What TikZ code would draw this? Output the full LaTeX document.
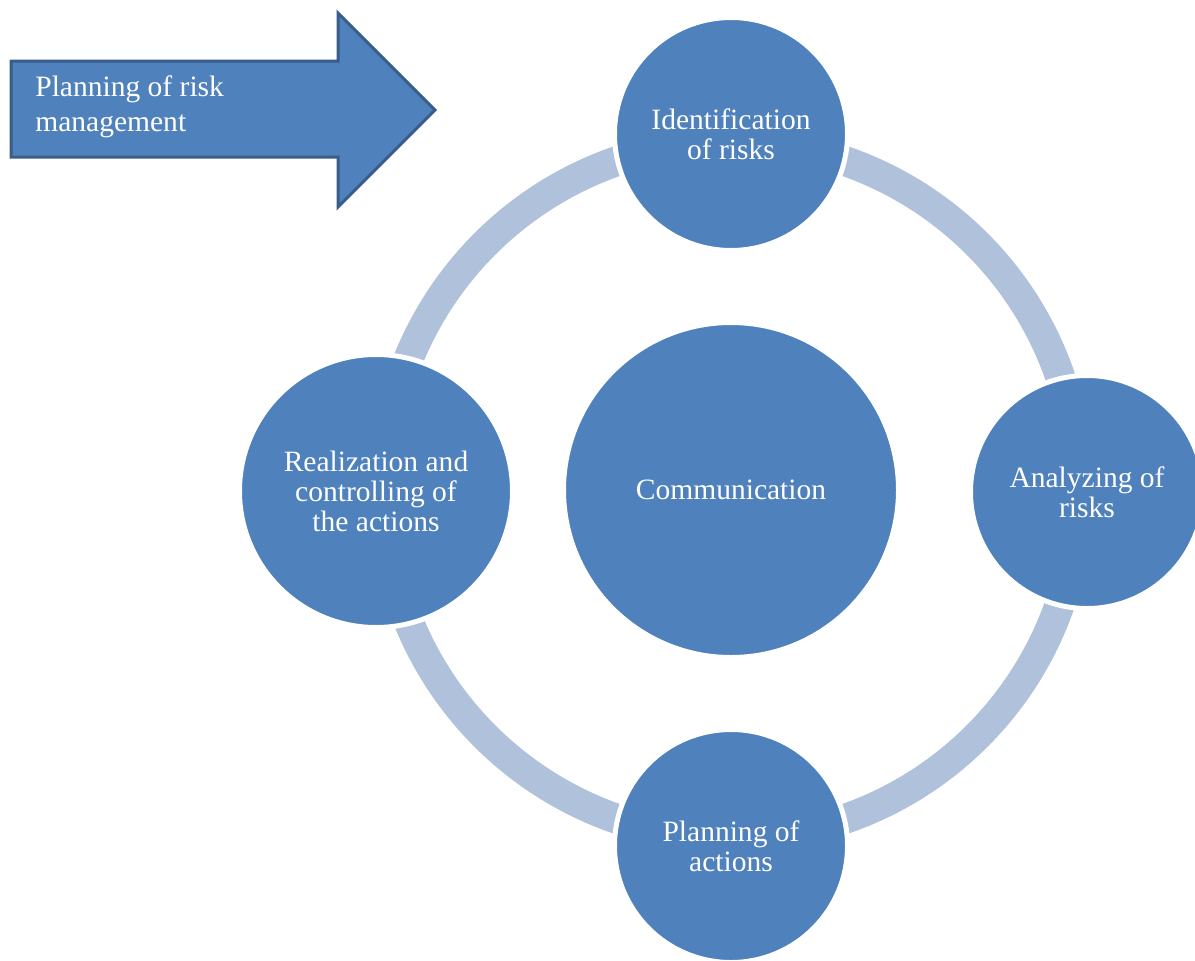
\documentclass[tikz,border=0pt]{standalone}
\usepackage{fontspec}
\setmainfont{Liberation Serif}
\definecolor{stageblue}{RGB}{79,129,189}
\definecolor{edgeblue}{RGB}{56,93,138}
\definecolor{ringblue}{RGB}{176,193,220}

\begin{document}
\begin{tikzpicture}[x=0.2mm,y=-0.2mm,
    stage/.style={circle,fill=stageblue,draw=white,line width=1mm,inner sep=0pt,
        text=white,align=center,font=\fontsize{16.8}{17.1}\selectfont},
    ring/.style={ringblue,line width=6mm}]
    \useasboundingbox (0,0) rectangle (1195,961);

    % Big arrow at the top left
    \draw[edgeblue,fill=stageblue,line width=0.6mm]
        (11,61) -- (338,61) -- (338,13) -- (435,110) -- (338,207) -- (338,157) -- (11,157) -- cycle;
    \node[anchor=north west,inner sep=0pt,align=left,text=white,
        font=\fontsize{16.8}{20}\selectfont] (plan) at (35,75) {Planning of risk\\management};

    % Ring behind the stages
    \coordinate (hub) at (731,490);
    \draw[ring] (hub) circle (69.6mm);

    % Stages
    \node[stage,minimum size=67mm] (comm) at (hub) {Communication};
    \node[stage,minimum size=46.6mm] (ident) at (731,134) {Identification\\of risks};
    \node[stage,minimum size=46.6mm] (analyze) at (1087,492) {Analyzing of\\risks};
    \node[stage,minimum size=46.6mm] (actions) at (731,846) {Planning of\\actions};
    \node[stage,minimum size=54.6mm] (control) at (376,491) {Realization and\\controlling of\\the actions};
\end{tikzpicture}
\end{document}
